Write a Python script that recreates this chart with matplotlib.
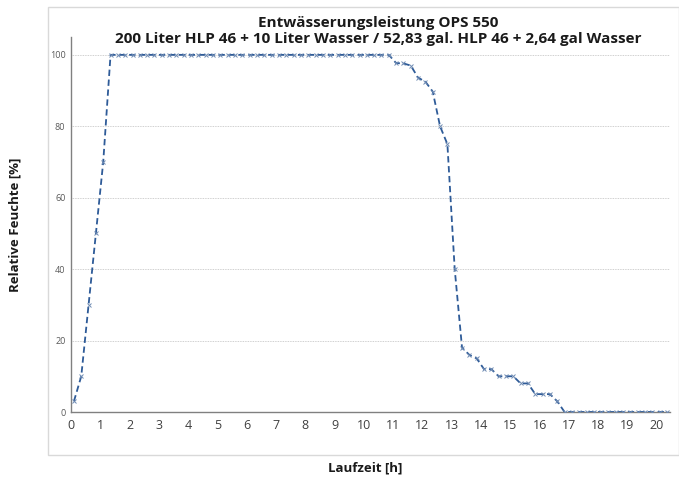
import matplotlib
matplotlib.use("Agg")
import matplotlib.pyplot as plt
from matplotlib.patches import Rectangle

# --- data -------------------------------------------------------------
time_h = [0.1, 0.35, 0.6, 0.85, 1.1, 1.35, 1.6, 1.85, 2.1, 2.35, 2.6, 2.85,
          3.1, 3.35, 3.6, 3.85, 4.1, 4.35, 4.6, 4.85, 5.1, 5.35, 5.6, 5.85,
          6.1, 6.35, 6.6, 6.85, 7.1, 7.35, 7.6, 7.85, 8.1, 8.35, 8.6, 8.85,
          9.1, 9.35, 9.6, 9.85, 10.1, 10.35, 10.6, 10.85, 11.1, 11.35, 11.6,
          11.85, 12.1, 12.35, 12.6, 12.85, 13.1, 13.35, 13.6, 13.85, 14.1,
          14.35, 14.6, 14.85, 15.1, 15.35, 15.6, 15.85, 16.1, 16.35, 16.6,
          16.85, 17.1, 17.35, 17.6, 17.85, 18.1, 18.35, 18.6, 18.85, 19.1,
          19.35, 19.6, 19.85, 20.1, 20.35]
humidity = [3, 10, 30, 50, 70, 100, 100, 100, 100, 100, 100, 100,
            100, 100, 100, 100, 100, 100, 100, 100, 100, 100, 100, 100,
            100, 100, 100, 100, 100, 100, 100, 100, 100, 100, 100, 100,
            100, 100, 100, 100, 100, 100, 100, 100, 97.7, 97.6, 97.0,
            93.6, 92.5, 89.7, 80.0, 75.0, 40.0, 18.0, 16.0, 15.0, 12.0,
            12.0, 10.0, 10.0, 10.0, 8.0, 8.0, 5.0, 5.0, 5.0, 3.0,
            0, 0, 0, 0, 0, 0, 0, 0, 0, 0,
            0, 0, 0, 0, 0]
x_ticks = list(range(0, 21))
y_ticks = [0, 20, 40, 60, 80, 100]
title = ("Entwässerungsleistung OPS 550\n"
         "200 Liter HLP 46 + 10 Liter Wasser / 52,83 gal. HLP 46 + 2,64 gal Wasser")
x_label = "Laufzeit [h]"
y_label = "Relative Feuchte [%]"

# --- style ------------------------------------------------------------
plt.rcParams['font.family'] = ['Open Sans', 'DejaVu Sans']
line_color = '#2E5B98'

fig = plt.figure(figsize=(6.79, 4.82), dpi=100)
fig.patches.append(Rectangle((48/679, 1-455/482), 1-48/679-0.5/679, (455-7)/482,
                             transform=fig.transFigure, fill=False,
                             edgecolor='#d9d9d9', linewidth=1.0))

ax = fig.add_axes([71/679, 1-412/482, (670-71)/679, (412-37)/482])
ax.plot(time_h, humidity, linestyle=(0, (3.5, 2)), color=line_color, linewidth=1.3,
        marker='x', markersize=3, markeredgewidth=0.7,
        markeredgecolor='#6f8bb3', zorder=3)

ax.set_xlim(0, 20.45)
ax.set_ylim(0, 105)
ax.set_xticks(x_ticks)
ax.set_yticks(y_ticks)
ax.tick_params(axis='x', length=0, labelsize=9, labelcolor='#404040', pad=5)
ax.tick_params(axis='y', length=0, labelsize=6.5, labelcolor='#595959', pad=4)
for yv in y_ticks[1:]:
    ax.axhline(yv, color='#c0c0c0', linestyle=(0, (1, 1)), linewidth=0.6, zorder=1)
for s in ['top', 'right']:
    ax.spines[s].set_visible(False)
for s in ['left', 'bottom']:
    ax.spines[s].set_color('#808080')
    ax.spines[s].set_linewidth(1.0)

fig.text(378/679, 1-31/482, title, ha='center', va='center', fontsize=11,
         fontweight='bold', color='#1a1a1a', linespacing=1.15)
fig.text(365/679, 1-468/482, x_label, ha='center', va='center', fontsize=9.5,
         fontweight='bold', color='#1a1a1a')
fig.text(15/679, 1-225/482, y_label, ha='center', va='center', fontsize=9.5,
         fontweight='bold', color='#1a1a1a', rotation=90)

fig.savefig('out.png', dpi=100)
